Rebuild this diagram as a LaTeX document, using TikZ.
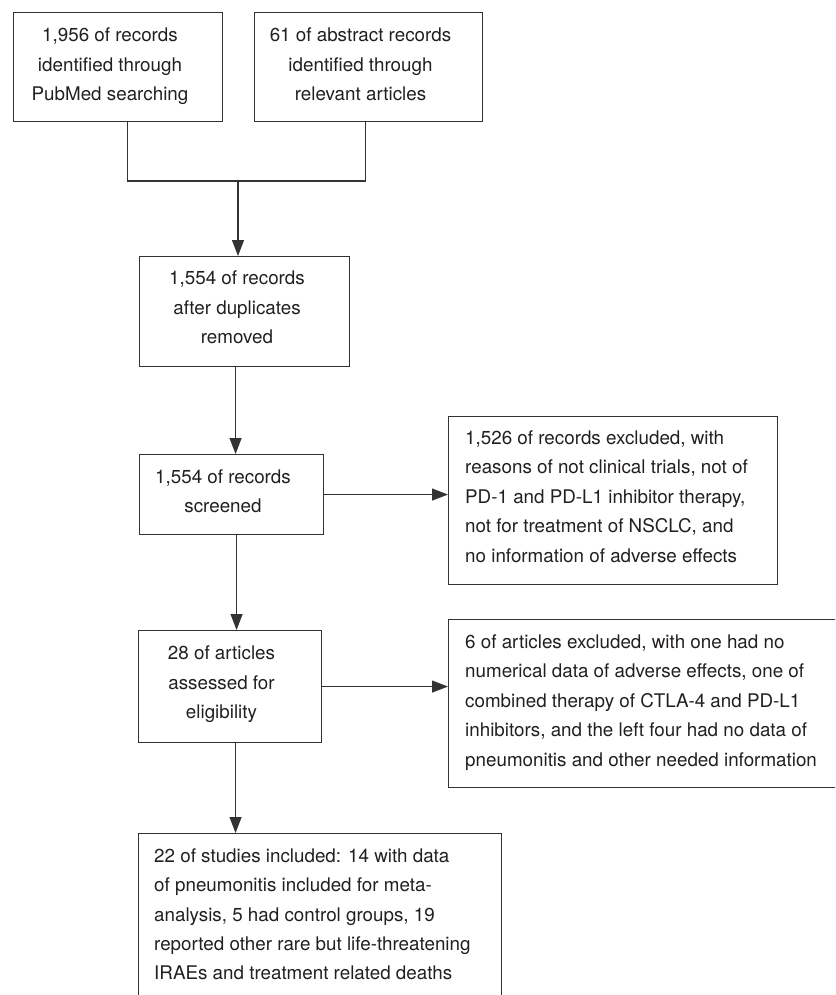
\documentclass[tikz,border=0pt]{standalone}
\usepackage{fontspec}
\setmainfont{TeX Gyre Heros}
\usetikzlibrary{arrows.meta}
\definecolor{linec}{HTML}{333333}
\definecolor{txtc}{HTML}{231F20}
\begin{document}
\begin{tikzpicture}[x=1pt,y=-1pt,
  box/.style={draw=linec, line width=1.1pt, rectangle, inner sep=0pt, anchor=north west},
  ctext/.style={text=txtc, align=center, inner sep=0pt, font=\fontsize{18.8}{29.4}\selectfont,
    execute at begin node=\strut, execute at end node=\strut},
  ltext/.style={ctext, align=left, anchor=west},
  conn/.style={draw=linec, line width=1.1pt},
  arr/.style={conn, -{Triangle[length=16pt,width=12pt]}}]
\useasboundingbox (0,0) rectangle (835,995);
\clip (0,0) rectangle (835,995);

% boxes
\node[box, minimum width=209pt, minimum height=109pt] (b1) at (13,12) {};
\node[box, minimum width=228pt, minimum height=109pt] (b2) at (254,12) {};
\node[box, minimum width=210pt, minimum height=110pt] (b3) at (139,256) {};
\node[box, minimum width=184pt, minimum height=80pt] (b4) at (139,454) {};
\node[box, minimum width=183pt, minimum height=112pt] (b5) at (138,630) {};
\node[box, minimum width=329pt, minimum height=168pt] (x1) at (448,416) {};
\node[box, minimum width=420pt, minimum height=168pt] (x2) at (448,619) {};
\node[box, minimum width=363pt, minimum height=200pt] (bf) at (138,833) {};

% texts
\node[ctext] (t1) at (110,68.6) {1,956 of records\\identified through\\PubMed searching};
\node[ctext] (t2) at (360.5,68.6) {61 of abstract records\\identified through\\relevant articles};
\node[ctext] (t3) at (237,311.6) {1,554 of records\\after duplicates\\removed};
\node[ctext] (t4) at (223,495.4) {1,554 of records\\screened};
\node[ctext] (t5) at (221.5,686.6) {28 of articles\\assessed for\\eligibility};
\node[ltext] (tx1) at (465,500.9) {1,526 of records excluded, with\\reasons of not clinical trials, not of\\PD-1 and PD-L1 inhibitor therapy,\\not for treatment of NSCLC, and\\no information of adverse effects};
\node[ltext] (tx2) at (465,704.9) {6 of articles excluded, with one had no\\numerical data of adverse effects, one of\\combined therapy of CTLA-4 and PD-L1\\inhibitors, and the left four had no data of\\pneumonitis and other needed information};
\node[ltext] (tf) at (154,918.6) {22 of studies included: 14 with data\\of pneumonitis included for meta-\\analysis, 5 had control groups, 19\\reported other rare but life-threatening\\IRAEs and treatment related deaths};

% connectors
\coordinate (j) at (238,181);
\coordinate (p1) at ([xshift=9.5pt]b1.south);
\coordinate (p2) at ([xshift=-3pt]b2.south);
\draw[conn] (p1) -- (p1 |- j) -- (p2 |- j) -- (p2);
\draw[arr] (j) -- (j |- b3.north);
\coordinate (p3) at ([xshift=-9pt]b3.south);
\draw[arr] (p3) -- (p3 |- b4.north);
\coordinate (p4) at ([xshift=5pt]b4.south);
\draw[arr] (p4) -- (p4 |- b5.north);
\coordinate (p5) at ([xshift=5.5pt]b5.south);
\draw[arr] (p5) -- (p5 |- bf.north);
\draw[arr] (b4.east) -- (b4.east -| x1.west);
\draw[arr] (b5.east) -- (b5.east -| x2.west);
\end{tikzpicture}
\end{document}
